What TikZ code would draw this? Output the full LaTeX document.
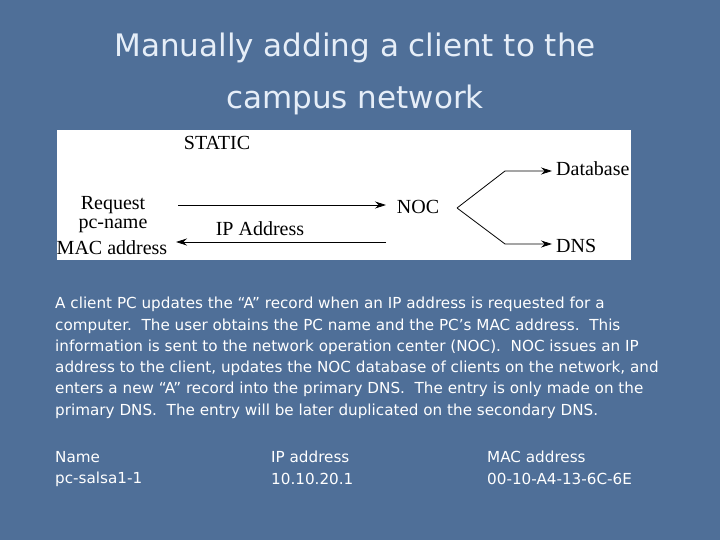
\documentclass[tikz,border=0pt]{standalone}
\usepackage{fontspec}
\setmainfont{DejaVu Sans}
\newfontfamily\serifd{Liberation Serif}
\usetikzlibrary{arrows.meta}
\definecolor{bg}{HTML}{4F6F98}
\definecolor{ttl}{HTML}{E6EEF8}
\tikzset{
 dg/.style={font=\serifd\fontsize{20}{20}\selectfont,inner sep=0pt,text=black},
 ar/.style={-{Stealth[length=11pt,width=7pt]},line width=0.8pt},
 body/.style={font=\fontsize{15.2}{21.3}\selectfont,text=white,inner sep=0pt,anchor=north west,align=left},
}
\begin{document}
\begin{tikzpicture}[x=1pt,y=-1pt]
\fill[bg] (0,0) rectangle (720,540);
\node[font=\fontsize{31}{52}\selectfont,text=ttl,align=center] (title) at (355,74) {Manually adding a client to the\\campus network};
\fill[white] (57,130) rectangle (631,260);
\node[dg] (static) at (217,143) {STATIC};
\node[dg] (req) at (113,205) {Request};
\node[dg] (pcn) at (113,226) {pc-name};
\node[dg] (mac) at (112,248) {MAC address};
\node[dg] (noc) at (418,207) {NOC};
\node[dg] (ip) at (260,229) {IP Address};
\node[dg,anchor=west] (db) at (556,169) {Database};
\node[dg,anchor=west] (dns) at (556,246) {DNS};
\coordinate (s1) at (178,205);
\coordinate (t1) at (386,205);
\coordinate (e2) at (386,242);
\coordinate (t2) at (176,242);
\coordinate (br) at (457,208);
\coordinate (b1) at (505,171);
\coordinate (b2) at (505,244);
\coordinate (d1) at (552,171);
\coordinate (d2) at (552,244);
\draw[ar] (s1) -- (t1);
\draw[ar] (e2) -- (t2);
\draw[ar] (br) -- (b1) -- (d1);
\draw[ar] (br) -- (b2) -- (d2);
\node[body] (txt) at (55,297) {A client PC updates the “A” record when an IP address is requested for a\\computer.\ \ The user obtains the PC name and the PC’s MAC address.\ \ This\\information is sent to the network operation center (NOC).\ \ NOC issues an IP\\address to the client, updates the NOC database of clients on the network, and\\enters a new “A” record into the primary DNS.\ \ The entry is only made on the\\primary DNS.\ \ The entry will be later duplicated on the secondary DNS.};
\node[body] (n1) at (55,451) {Name\\pc-salsa1-1};
\node[body] (n2) at (271,451) {IP address\\10.10.20.1};
\node[body] (n3) at (487,451) {MAC address\\00-10-A4-13-6C-6E};
\end{tikzpicture}
\end{document}
